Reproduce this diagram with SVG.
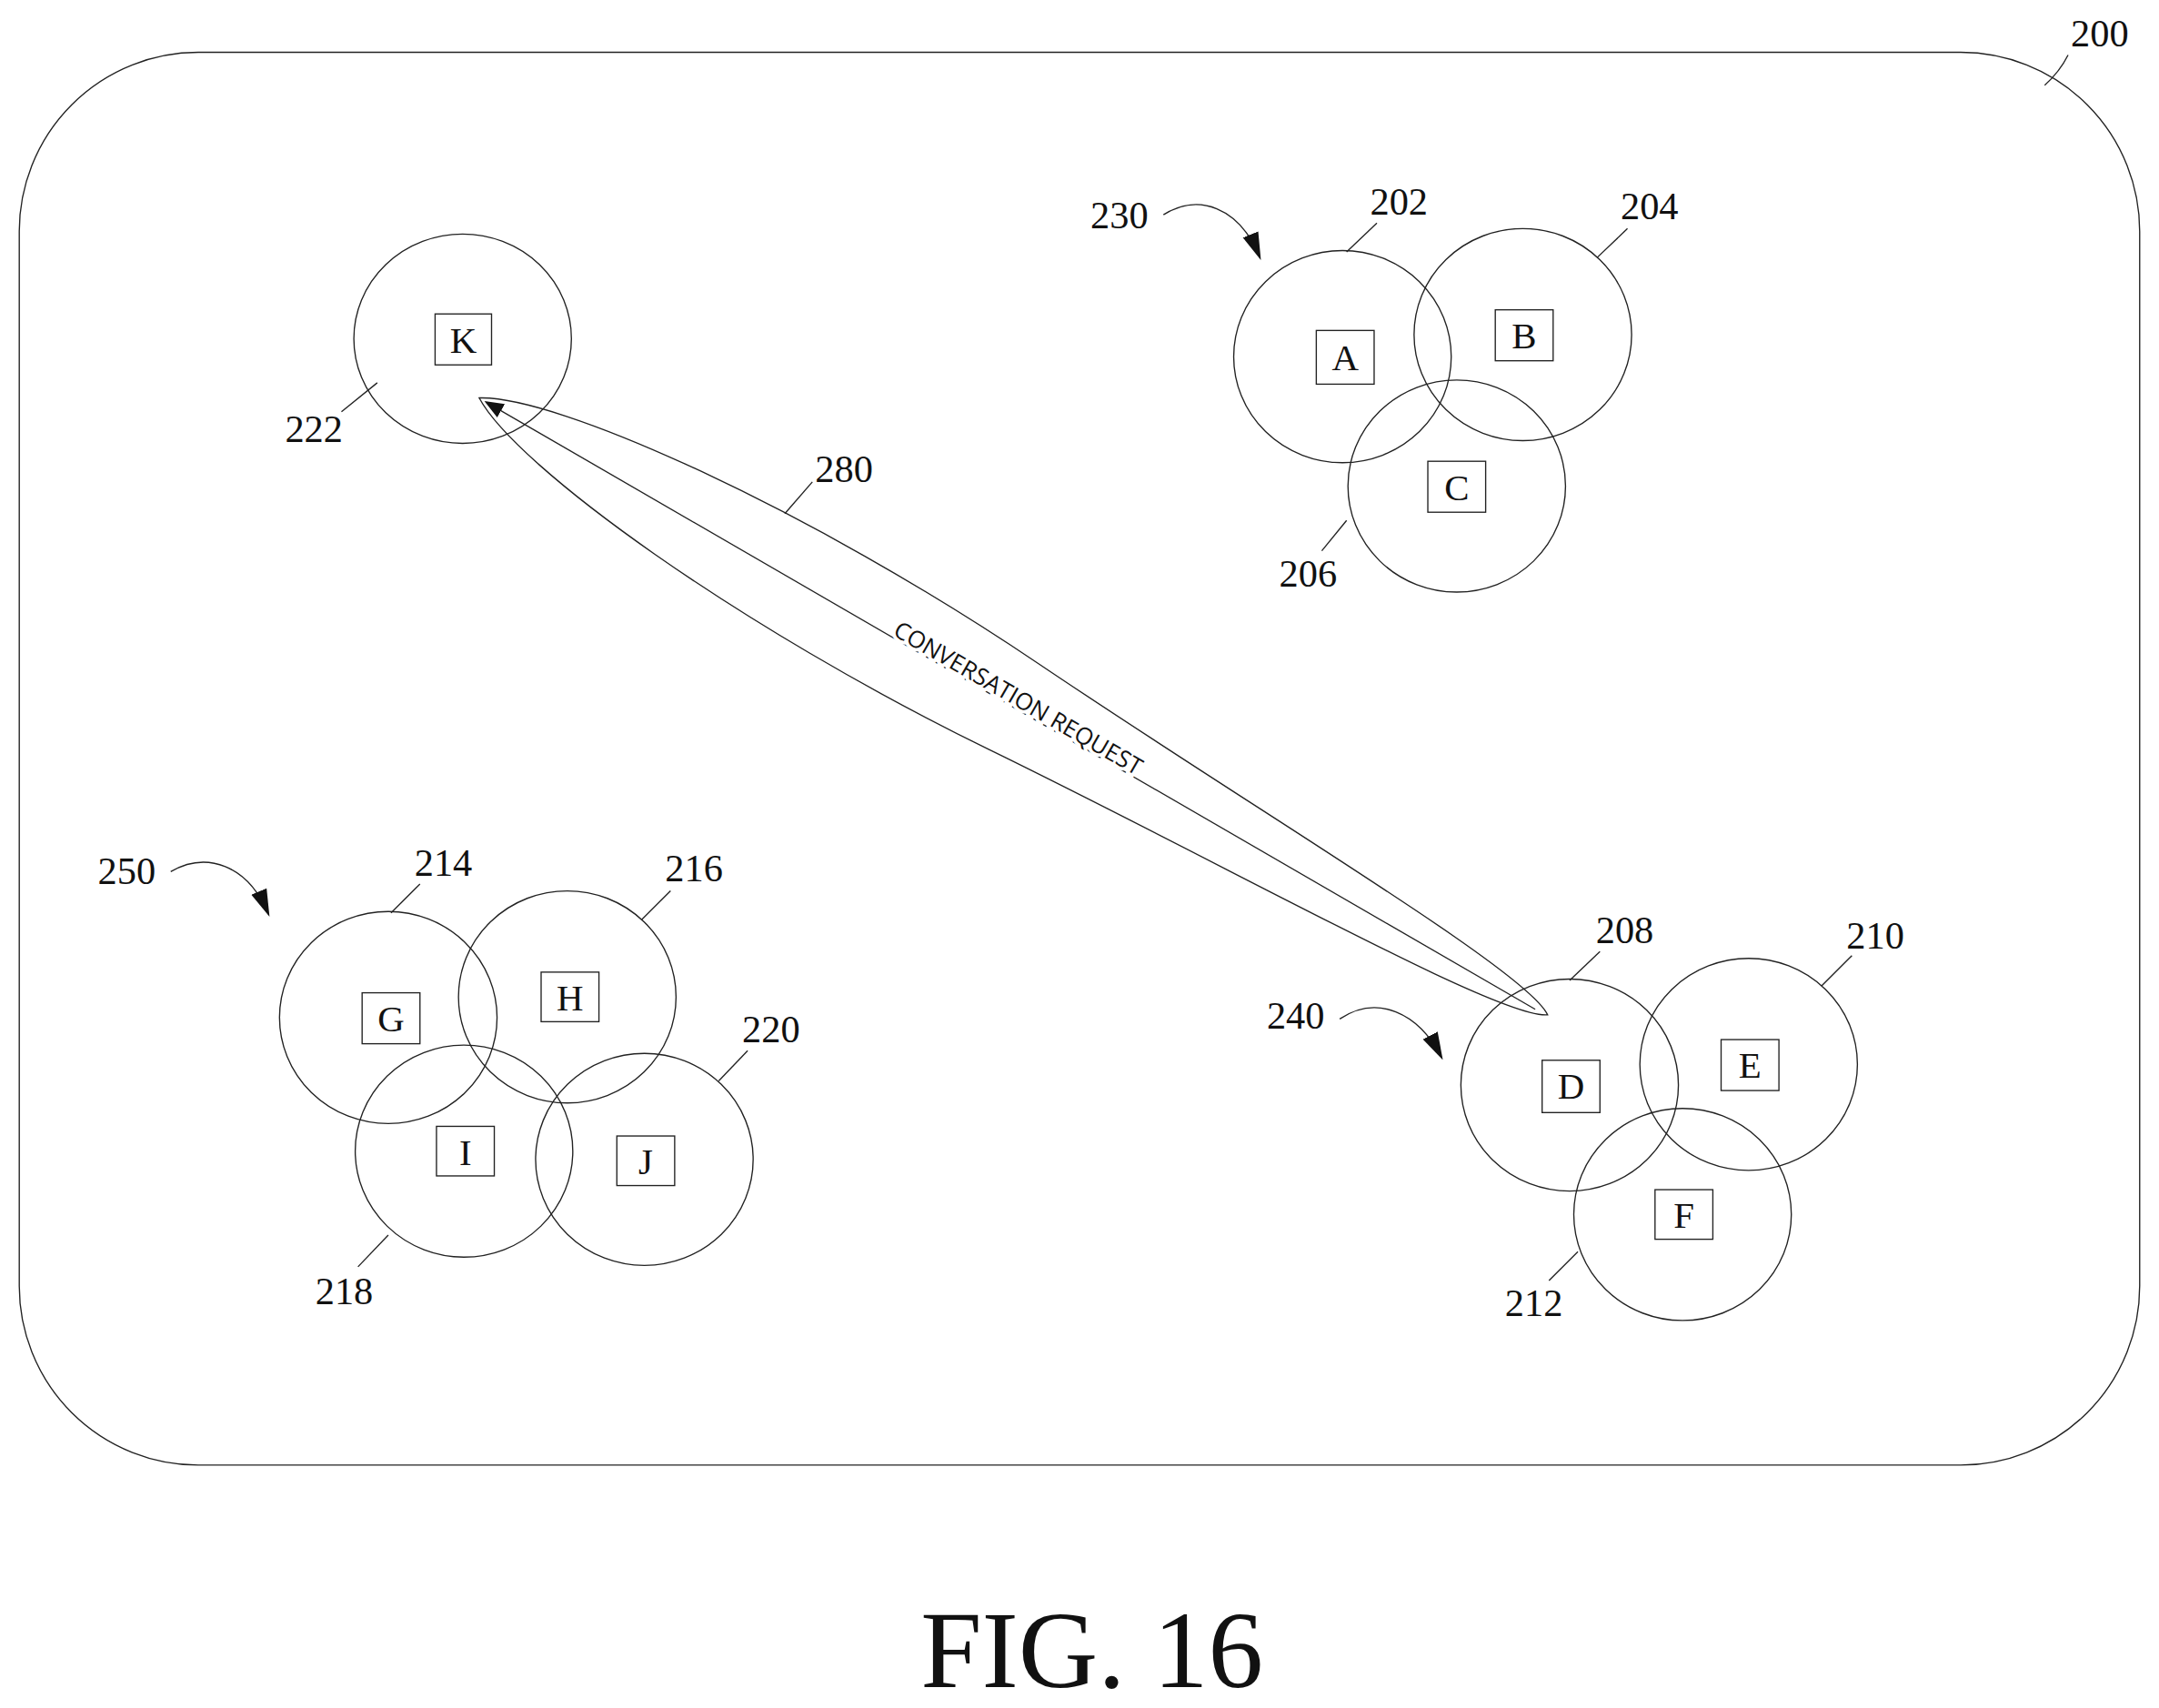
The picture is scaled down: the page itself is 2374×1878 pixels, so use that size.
<svg xmlns="http://www.w3.org/2000/svg" width="2374" height="1878" viewBox="0 0 2374 1878">
<defs>
<style>
.c{fill:none;stroke:#222;stroke-width:0.9}
.b{fill:#fff;stroke:#222;stroke-width:0.9}
.l{fill:none;stroke:#222;stroke-width:0.9}
.n{font-family:"Liberation Serif",serif;font-size:28px;fill:#111;text-anchor:middle}
.t{font-family:"Liberation Serif",serif;font-size:27px;fill:#111;text-anchor:middle}
</style>
<marker id="ah" viewBox="0 0 10 10" refX="9" refY="5" markerWidth="14" markerHeight="14" markerUnits="userSpaceOnUse" orient="auto"><path d="M0,1 L10,5 L0,9 z" fill="#111"/></marker>
<marker id="ah2" viewBox="0 0 10 10" refX="9" refY="5" markerWidth="20" markerHeight="20" markerUnits="userSpaceOnUse" orient="auto"><path d="M0,2 L10,5 L0,8 z" fill="#111"/></marker>
</defs>
<rect width="2374" height="1878" fill="#fff"/>
<g transform="scale(1.514)">
<g id="frame">
<rect x="14" y="38" width="1540" height="1026" rx="130" class="c"/>
<text x="1525" y="34" class="n">200</text>
<path d="M1485,62 Q1496,52 1502,40" class="l"/>
</g>
<g id="connectors">
<path d="M-448,0 C-400,-30 -200,-50 0,-36 C200,-22 420,-20 448,0 C420,20 200,22 0,36 C-200,50 -400,30 -448,0 Z" transform="translate(736,513) rotate(30)" class="c"/>
<line x1="1115" y1="733" x2="353" y2="292" class="l" marker-end="url(#ah)"/>
<text x="0" y="0" transform="translate(736,513) rotate(30)" font-family="'Open Sans',sans-serif" font-size="17" text-anchor="middle" dy="-1" fill="#111" stroke="#fff" stroke-width="5" paint-order="stroke">CONVERSATION REQUEST</text>
<text x="613" y="350" class="n">280</text>
<path d="M570,373 L590,350" class="l"/>
<text x="813" y="166" class="n">230</text>
<path d="M845,156 C870,140 900,150 915,187" class="l" marker-end="url(#ah2)"/>
<text x="941" y="747" class="n">240</text>
<path d="M973,740 C1000,722 1030,735 1047,768" class="l" marker-end="url(#ah2)"/>
<text x="92" y="642" class="n">250</text>
<path d="M124,633 C150,618 180,628 195,664" class="l" marker-end="url(#ah2)"/>
</g>
<g id="node-K"><ellipse cx="336" cy="246" rx="79" ry="76" class="c"/><rect x="316" y="228" width="41" height="37" class="b"/><text x="336.5" y="256" class="t">K</text><text x="228" y="321" class="n">222</text><path d="M248,299 L274,278" class="l"/></g>
<g id="node-A"><ellipse cx="975" cy="259" rx="79" ry="77" class="c"/></g>
<g id="node-B"><ellipse cx="1106" cy="243" rx="79" ry="77" class="c"/></g>
<g id="node-C"><ellipse cx="1058" cy="353" rx="79" ry="77" class="c"/></g>
<g id="labels-A"><rect x="956" y="240" width="42" height="39" class="b"/><text x="977" y="269" class="t">A</text><text x="1016" y="156" class="n">202</text><path d="M978,183 L1000,162" class="l"/></g>
<g id="labels-B"><rect x="1086" y="225" width="42" height="37" class="b"/><text x="1107" y="253" class="t">B</text><text x="1198" y="159" class="n">204</text><path d="M1160,187 L1182,166" class="l"/></g>
<g id="labels-C"><rect x="1037" y="335" width="42" height="37" class="b"/><text x="1058" y="363" class="t">C</text><text x="950" y="426" class="n">206</text><path d="M960,400 L978,378" class="l"/></g>
<g id="node-D"><ellipse cx="1140" cy="788" rx="79" ry="77" class="c"/></g>
<g id="node-E"><ellipse cx="1270" cy="773" rx="79" ry="77" class="c"/></g>
<g id="node-F"><ellipse cx="1222" cy="882" rx="79" ry="77" class="c"/></g>
<g id="labels-D"><rect x="1120" y="770" width="42" height="38" class="b"/><text x="1141" y="798" class="t">D</text><text x="1180" y="685" class="n">208</text><path d="M1140,712 L1162,691" class="l"/></g>
<g id="labels-E"><rect x="1250" y="755" width="42" height="37" class="b"/><text x="1271" y="783" class="t">E</text><text x="1362" y="689" class="n">210</text><path d="M1323,716 L1345,694" class="l"/></g>
<g id="labels-F"><rect x="1202" y="864" width="42" height="36" class="b"/><text x="1223" y="892" class="t">F</text><text x="1114" y="956" class="n">212</text><path d="M1125,930 L1146,909" class="l"/></g>
<g id="node-G"><ellipse cx="282" cy="739" rx="79" ry="77" class="c"/></g>
<g id="node-H"><ellipse cx="412" cy="724" rx="79" ry="77" class="c"/></g>
<g id="node-I"><ellipse cx="337" cy="836" rx="79" ry="77" class="c"/></g>
<g id="node-J"><ellipse cx="468" cy="842" rx="79" ry="77" class="c"/></g>
<g id="labels-G"><rect x="263" y="721" width="42" height="37" class="b"/><text x="284" y="749" class="t">G</text><text x="322" y="636" class="n">214</text><path d="M284,663 L305,642" class="l"/></g>
<g id="labels-H"><rect x="393" y="706" width="42" height="36" class="b"/><text x="414" y="734" class="t">H</text><text x="504" y="640" class="n">216</text><path d="M466,668 L487,647" class="l"/></g>
<g id="labels-I"><rect x="317" y="818" width="42" height="36" class="b"/><text x="338" y="846" class="t">I</text><text x="250" y="947" class="n">218</text><path d="M260,920 L282,897" class="l"/></g>
<g id="labels-J"><rect x="448" y="825" width="42" height="36" class="b"/><text x="469" y="853" class="t">J</text><text x="560" y="757" class="n">220</text><path d="M522,785 L543,763" class="l"/></g>
<text x="793" y="1225" font-family="'Liberation Serif',serif" font-size="80" text-anchor="middle" fill="#111">FIG. 16</text>
</g>
</svg>
